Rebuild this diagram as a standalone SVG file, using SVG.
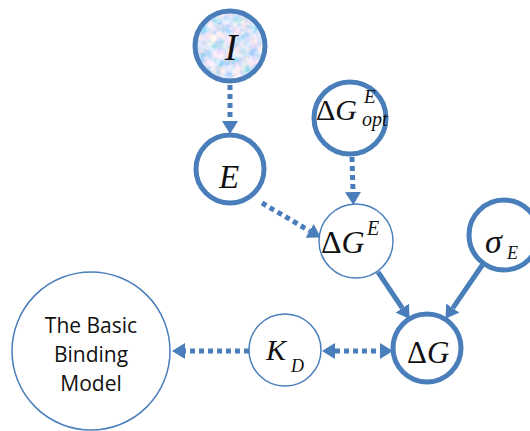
<svg xmlns="http://www.w3.org/2000/svg" width="530" height="431" viewBox="0 0 530 431">
<style>
.node{fill:#fff;stroke:#4a7ebb}
.thick{stroke-width:5}
.thin{stroke-width:1.5}
.m{font-family:'Liberation Serif','Times New Roman','DejaVu Serif',serif;fill:#111}
.it{font-style:italic}
.lbl{font-family:'Open Sans','Liberation Sans',sans-serif;font-size:21px;fill:#111;text-anchor:middle}
.dash{stroke:#4a7ebb;stroke-width:5;stroke-dasharray:5 4;fill:none}
.solid{stroke:#4a7ebb;stroke-width:5;fill:none}
</style>
<defs>
<marker id="ah" markerUnits="userSpaceOnUse" markerWidth="14" markerHeight="16" refX="0" refY="8" orient="auto-start-reverse" viewBox="0 0 14 16">
<path d="M0,0 L13,8 L0,16 z" fill="#4a7ebb"/>
</marker>
<filter id="tex" x="0" y="0" width="1" height="1">
<feTurbulence type="fractalNoise" baseFrequency="0.12" numOctaves="3" seed="4" result="n"/>
<feColorMatrix in="n" type="matrix" values="1.3 0 0 0 0.07  0.4 0.3 0 0 0.43  0 0 0.4 0 0.73  0 0 0 0 1" result="c"/>
<feComposite in="c" in2="SourceGraphic" operator="in"/>
</filter>
</defs>

<g id="connectors">
<line class="dash" x1="230" y1="85" x2="230" y2="121" marker-end="url(#ah)"/>
<line class="dash" x1="352" y1="157" x2="353" y2="192" marker-end="url(#ah)"/>
<line class="dash" x1="262" y1="203" x2="309.6" y2="230.9" marker-end="url(#ah)"/>
<line class="solid" x1="378" y1="272" x2="402.3" y2="308.1" marker-end="url(#ah)"/>
<line class="solid" x1="483" y1="264" x2="452.8" y2="308.1" marker-end="url(#ah)"/>
<line class="dash" x1="335" y1="351" x2="380" y2="351" marker-start="url(#ah)" marker-end="url(#ah)"/>
<line class="dash" x1="249" y1="351" x2="185" y2="351" marker-end="url(#ah)"/>
</g>

<g id="node-I">
<circle cx="230" cy="46" r="35" fill="#c8d0f0" filter="url(#tex)"/>
<circle cx="230" cy="46" r="35" class="node thick" style="fill:none"/>
<text class="m it" x="231" y="60" font-size="38" text-anchor="middle">I</text>
</g>

<g id="node-E">
<circle cx="230" cy="169" r="34" class="node thick"/>
<text class="m it" x="229" y="188" font-size="33" text-anchor="middle">E</text>
</g>

<g id="node-dGEopt">
<circle cx="350" cy="118" r="36" class="node thick"/>
<text class="m" x="316" y="120" font-size="30">Δ<tspan class="it">G</tspan></text>
<text class="m it" x="364" y="103" font-size="19">E</text>
<text class="m it" x="362" y="126" font-size="20">opt</text>
</g>

<g id="node-dGE">
<circle cx="356" cy="241" r="37" class="node thin"/>
<text class="m" x="321" y="253" font-size="32">Δ<tspan class="it">G</tspan></text>
<text class="m it" x="367" y="235" font-size="20">E</text>
</g>

<g id="node-sigmaE">
<circle cx="504" cy="235" r="35" class="node thick"/>
<text class="m it" x="485" y="253" font-size="34">σ</text>
<text class="m it" x="507" y="259" font-size="18">E</text>
</g>

<g id="node-dG">
<circle cx="427" cy="348" r="34" class="node thick"/>
<text class="m" x="407" y="363" font-size="31">Δ<tspan class="it">G</tspan></text>
</g>

<g id="node-KD">
<circle cx="285" cy="350" r="36" class="node thin"/>
<text class="m it" x="266" y="360" font-size="30">K</text>
<text class="m it" x="291" y="372" font-size="18">D</text>
</g>

<g id="node-basic">
<circle cx="91" cy="351" r="79" class="node thin"/>
<text class="lbl" x="91" y="333">The Basic</text>
<text class="lbl" x="91" y="362">Binding</text>
<text class="lbl" x="91" y="391">Model</text>
</g>
</svg>
